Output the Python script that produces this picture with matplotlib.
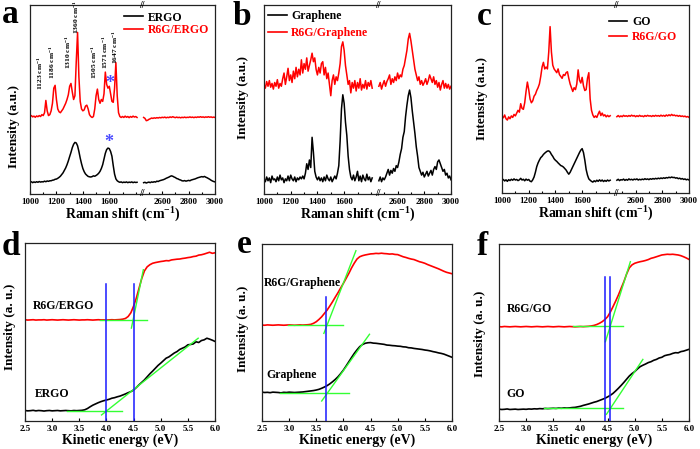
import numpy as np
import matplotlib
matplotlib.use("Agg")
import matplotlib.pyplot as plt
import matplotlib.transforms as mtrans

plt.rcParams['font.family'] = ['Liberation Serif', 'DejaVu Serif']
plt.rcParams['font.weight'] = 'bold'
plt.rcParams['mathtext.fontset'] = 'custom'
plt.rcParams['mathtext.rm'] = 'Liberation Serif:bold'
plt.rcParams['mathtext.it'] = 'Liberation Serif:bold'
plt.rcParams['mathtext.bf'] = 'Liberation Serif:bold'

# ---------------- Raman data (left segment 1000-1810, right 2460-3000, step 10) -------------
raman_left_start, raman_right_start, raman_step = 1000, 2460, 10

a_ergo_left = [6.2, 6.5, 6.0, 6.4, 6.1, 6.5, 6.2, 6.6, 6.3, 6.5, 6.4, 6.8, 6.5, 6.9, 6.7, 7.0, 7.0, 7.3, 7.4, 7.8,
               7.9, 8.3, 8.8, 9.4, 10.3, 11.2, 12.5, 13.8, 15.5, 17.5, 19.8, 22, 24.5, 26.3, 27.3, 27, 25.5, 22.5, 19, 16,
               13.5, 11.8, 10.6, 9.9, 9.3, 9.1, 9.0, 9.2, 9.6, 9.4, 9.8, 10.3, 11.0, 12.0, 13.5, 15.5, 18.5, 21.5, 23.5, 24.3,
               24, 22.5, 20, 15, 10.5, 8, 7, 6.5, 6.2, 6.4, 6.0, 6.3, 6.1, 6.4, 6.0, 6.3, 6.1, 6.4, 6.0, 6.3, 6.1, 6.2]
a_ergo_right = [6, 6.2, 5.8, 6.1, 6.3, 6.0, 6.4, 6.2, 6.5, 6.3, 6.8, 6.6, 7.0, 7.2, 7.4, 7.6, 7.9, 8.3, 8.6, 8.9,
                9.3, 9.6, 9.4, 9.0, 8.7, 8.2, 8.0, 7.6, 7.4, 7.0, 6.9, 7.1, 6.8, 7.0, 7.2, 7.0, 7.4, 7.6, 7.8, 8.0,
                8.3, 8.6, 8.8, 9.0, 9.2, 9.0, 9.3, 8.9, 8.6, 8.2, 7.8, 7.3, 6.9, 6.6, 6.4]
a_r6g_left = [41, 41.5, 40.8, 41.2, 40.6, 41.3, 40.9, 41.5, 41, 42, 41.5, 43, 49.5, 44, 41.5, 42, 44, 48, 56, 57.5,
              50, 45, 43.5, 43, 44, 45, 46.5, 48, 50, 52.5, 57, 58.5, 54, 50, 52, 70, 85.5, 62, 49, 45,
              44, 44.5, 46.5, 47, 45, 42, 41, 40.5, 41, 45, 52, 55.5, 50, 48, 50, 49, 53, 64.5, 58, 56,
              57, 53, 49, 48.5, 56, 69.5, 52, 43, 41, 40.5, 41, 40.5, 41.2, 40.6, 41, 40.4, 41, 40.6, 41.2, 40.7, 41, 40.5]
a_r6g_right = [40.5, 40, 38.8, 39, 39.5, 39.8, 40.2, 40, 40.3, 40.1, 40.4, 40.2, 40.5, 40.3, 40.6, 40.4, 40.7, 40.3, 40.6, 40.4,
               40.8, 40.5, 40.9, 40.6, 40.4, 40.7, 40.4, 40.6, 40.3, 40.6, 40.4, 40.7, 40.4, 40.6, 40.5, 40.8, 40.5, 40.7, 40.4, 40.7,
               40.5, 40.8, 40.6, 40.9, 40.6, 40.8, 40.5, 40.8, 40.6, 40.9, 40.6, 40.8, 40.5, 40.7, 40.5]

b_gr_left = [8, 6.5, 9, 7, 8.5, 6, 9.5, 7.5, 8, 6.5, 9, 7, 10, 7.5, 8.5, 6, 8, 7, 9.5, 7,
             10, 8, 7, 9, 6.5, 8.5, 7.5, 9, 8, 9.5, 8, 11, 16, 13, 18, 14, 30, 22, 12, 9,
             7.5, 9, 7, 8.5, 6.5, 9, 7, 10, 8, 7, 9, 6.5, 8, 9.5, 8, 11, 15, 28, 45, 52.5,
             48, 38, 31, 20, 13, 9, 7.5, 10, 7, 9, 12, 7, 9.5, 6.5, 10, 8, 7, 10.5, 7.5, 9, 6.5, 8.5]
b_gr_right = [7, 9, 6.5, 8.5, 7.5, 9, 11, 13, 10, 12.5, 11, 13.5, 12, 15, 14, 17, 21, 24, 30, 33,
              41, 47, 52, 55, 51, 44, 38, 32, 25, 20, 14, 12, 10, 11.5, 9, 10.5, 12, 9.5, 11, 12.5,
              10, 13, 14.5, 13, 17, 18, 16, 14, 12, 13, 10, 11, 8.5, 9.5, 7.5]
b_r6g_left = [58, 56, 59.5, 57, 60, 56.5, 58.5, 55.5, 59, 57, 60.5, 56, 58.5, 57, 61, 64, 58, 62, 66.5, 60,
              63, 59, 65, 61, 67, 62, 66, 63, 71, 64, 69, 66, 72, 65, 68, 71, 74.5, 70, 72, 66,
              63, 67, 64, 69, 70, 63, 67, 61, 64, 58, 52, 60, 63, 58, 62, 60, 64, 69, 78, 80.5,
              76, 68, 63, 58, 60, 53.5, 59, 56, 60, 54.5, 59, 56, 61, 55, 58, 56, 60, 55.5, 59, 57, 60, 56]
b_r6g_right = [57, 59, 55.5, 58, 60, 57, 59.5, 61, 63, 58, 61, 59, 62, 60, 64, 61, 63, 62, 66, 68,
               72, 76, 82, 85, 81, 76, 71, 66, 63, 60, 62, 58, 60, 57.5, 59, 61, 58, 60, 63, 61,
               59, 62, 58, 60, 56.5, 59, 55, 58, 60, 56, 58.5, 56, 58, 55.5, 57]

c_go_left = [6.5, 7.2, 6.4, 7, 6.2, 7.1, 6.6, 7.3, 6.8, 7.5, 6.9, 7.2, 6.6, 7.0, 7.8, 6.9, 7.3, 6.5, 7.4, 6.8,
             7.2, 6.3, 6.0, 7.0, 8.5, 11, 14, 16, 17.5, 18.8, 19.5, 20.5, 21.2, 21.8, 22.3, 22.4, 21.8, 20.5, 19.5, 18.2,
             17.4, 16.8, 16.0, 15.3, 14.6, 14.3, 13.8, 13.0, 12.2, 11.0, 10.0, 11.0, 12.5, 14.0, 15.5, 17.0, 18.5, 20.0, 21.5, 22.8,
             23.6, 21.5, 17.5, 12.5, 9.5, 7.5, 6.8, 6.2, 5.8, 6.5, 6.0, 6.8, 6.2, 7.0, 6.3, 6.9, 6.1, 6.7, 6.2, 6.9, 6.4, 6.8]
c_go_right = [6.8, 7.3, 6.6, 7.1, 6.9, 7.4, 6.7, 7.2, 6.8, 7.5, 7.0, 7.3, 6.9, 7.4, 7.1, 7.5, 6.9, 7.3, 7.0, 7.4,
              7.1, 7.6, 7.2, 7.5, 7.1, 7.6, 7.3, 7.7, 7.4, 7.8, 7.5, 7.9, 7.6, 8.0, 7.7, 8.1, 7.8, 8.2, 8.0, 8.4,
              8.1, 8.5, 8.2, 8.3, 7.9, 8.1, 7.6, 7.9, 7.4, 7.7, 7.2, 7.5, 7.0, 7.3, 6.9]
c_r6g_left = [41, 40, 41.5, 39.5, 38.8, 40.5, 39.5, 41, 40.2, 41.8, 41, 42.5, 44, 43, 47.5, 45, 44.5, 48, 54, 59,
              55, 50, 48, 49, 51.5, 52.5, 54.5, 56, 58, 62, 67, 69.5, 66, 67, 66, 75, 88.5, 75, 68, 66,
              65, 64, 66, 63, 62, 61, 63, 62.5, 64, 64.5, 61, 58, 56, 54, 56, 55, 58, 65.5, 60, 58.5,
              61.5, 57, 54.5, 55, 61, 64, 50, 44, 41.5, 40.2, 41, 40.2, 42, 43.5, 41.2, 42.5, 41, 41.6, 40.5, 41.3, 40.6, 41.1]
c_r6g_right = [40.6, 41.2, 40.5, 41.0, 40.6, 41.3, 40.8, 41.1, 40.7, 41.2, 40.8, 41.4, 40.9, 41.2, 40.6, 41.1, 40.7, 41.3, 40.8, 41.0,
               40.6, 41.2, 40.8, 41.3, 40.9, 41.1, 40.7, 41.2, 40.8, 41.3, 40.9, 41.2, 40.8, 41.4, 40.9, 41.3, 40.8, 41.5, 41.0, 41.6,
               41.1, 41.8, 41.2, 41.5, 41.0, 41.3, 40.8, 41.2, 40.7, 41.0, 40.6, 40.9, 40.4, 40.7, 40.2]

peak_positions = [1123, 1186, 1310, 1360, 1505, 1571, 1647]
peak_label_x = [1075, 1170, 1292, 1347, 1490, 1572, 1648]
peak_label_y = [55.2, 61, 66, 84.8, 60.6, 66, 69]
star_positions = [(1603, 58.5), (1598, 27)]

raman_major = [1000, 1200, 1400, 1600, 2600, 2800, 3000]
raman_minor = [1100, 1300, 1500, 1700, 1800, 2500, 2700, 2900]

# ---------------- UPS-like data (2.5 - 6.0 eV, step 0.05) ----------------
ke_start, ke_step = 2.5, 0.05
d_r6g = [56.9, 56.7, 56.8, 56.9, 56.7, 56.8, 56.8, 56.9, 56.7, 56.8, 56.9, 56.8, 56.7, 56.8, 56.9, 56.8, 56.7, 56.8, 56.9, 56.8,
         56.7, 56.8, 56.8, 56.9, 56.8, 56.7, 56.8, 56.9, 56.8, 56.8, 56.7, 56.8, 56.9, 56.8, 56.9, 57.0, 57.2,
         57.6, 58.7, 60.8, 64.5, 69, 74.5, 80, 84.3, 86.6, 87.8, 88.6, 89.0, 89.3, 89.6, 89.8, 90.1, 90.0, 90.5, 90.7, 90.9,
         91.0, 91.3, 91.5, 91.8, 92.0, 92.4, 92.6, 93.2, 93.4, 93.8, 94.3, 94.8, 94.2, 94.5]
d_ergo = [5.9, 5.7, 5.8, 6.0, 5.7, 5.9, 5.8, 5.6, 5.8, 5.9, 5.7, 5.8, 5.9, 5.7, 5.8, 5.9, 5.8, 5.7, 5.9, 5.8, 5.9, 6.0, 6.3,
          7.0, 8.0, 8.9, 9.6, 10.3, 10.9, 11.4, 11.8, 12.2, 12.8, 13.1, 13.6, 14.0, 14.6, 15.2, 15.9, 16.5, 17.4, 18.8, 20.3,
          21.7, 23.1, 24.8, 26.5, 28.0, 29.6, 31.2, 32.5, 33.9, 35.3, 36.0, 37.1, 38.2, 39.0, 40.2, 40.9, 41.6, 42.8, 43.0,
          43.3, 44.5, 44.1, 45.2, 45.6, 46.5, 46.0, 45.4, 44.7]
e_r6g = [54.2, 54.1, 54.3, 54.2, 54.1, 54.2, 54.3, 54.2, 54.1, 54.2, 54.3, 54.2, 54.1, 54.2, 54.3, 54.2, 54.3, 54.4, 54.6,
         55.2, 56.1, 57.4, 58.9, 60.8, 62.7, 65, 67.4, 70, 72.5, 75.2, 77.8, 80.6, 83.4, 86.5, 89.2, 91.5, 92.8, 93.4, 93.8,
         94.1, 94.4, 94.5, 94.7, 94.6, 94.8, 94.6, 94.5, 94.3, 94.4, 94.1, 94.0, 93.4, 92.8, 92.4, 91.9, 91.5, 91.2, 90.6,
         90.0, 89.6, 89.1, 88.4, 87.8, 87.2, 86.6, 86.0, 85.3, 84.6, 84.0, 83.6, 83.2]
e_gr = [16.3, 16.1, 16.2, 16.0, 16.3, 16.2, 16.1, 15.9, 16.2, 16.1, 16.3, 16.2, 16.1, 16.2, 16.3, 16.4, 16.6,
        16.8, 17.0, 17.2, 17.5, 17.9, 18.5, 19.2, 20.0, 21.0, 22.2, 23.5, 25.0, 26.8, 28.8, 31.1, 33.5, 35.9, 38.2, 40.2,
        42.0, 43.2, 43.9, 44.2, 44.3, 44.0, 43.9, 43.7, 43.5, 43.3, 42.9, 42.8, 42.6, 42.5, 42.3, 42.2, 41.9, 41.8, 41.4,
        41.3, 41.0, 40.8, 40.6, 40.4, 40.1, 39.9, 39.6, 39.2, 38.9, 38.5, 38.2, 37.8, 37.2, 36.6, 36.0]
f_r6g = [53.3, 53.2, 53.4, 53.3, 53.2, 53.3, 53.4, 53.3, 53.2, 53.3, 53.4, 53.3, 53.2, 53.3, 53.4, 53.3, 53.2, 53.3,
         53.4, 53.3, 53.2, 53.3, 53.4, 53.3, 53.2, 53.3, 53.4, 53.3, 53.2, 53.3, 53.4, 53.3, 53.4, 53.5, 53.7, 54.0,
         54.5, 55.2, 56.1, 57.3, 58.9, 61.5, 64.6, 67.8, 71.2, 75.0, 78.7, 83.0, 86.5, 88.2, 89.1, 89.6, 90.0, 90.3, 90.7,
         91.2, 91.9, 92.3, 92.8, 93.3, 93.8, 94.0, 94.2, 94.1, 94.2, 94.0, 93.8, 93.4, 92.8, 92.1, 91.3]
f_go = [6.7, 6.5, 6.6, 6.8, 6.5, 6.6, 6.7, 6.5, 6.6, 6.7, 6.6, 6.8, 6.7, 6.9, 6.8, 7.0, 6.9, 7.1, 7.0, 7.1, 7.2, 7.1,
        7.3, 7.2, 7.4, 7.3, 7.4,
        7.6, 7.7, 8.0, 8.3, 8.8, 9.2, 9.6, 10.1, 10.6, 11.0, 11.6, 12.2, 12.8, 13.6, 14.5, 15.6, 17.0, 18.5, 20.1, 21.8,
        23.6, 25.4, 26.8, 27.9, 29.4, 30.7, 31.5, 32.2, 33.0, 33.5, 34.3, 34.8, 35.6, 36.0, 36.9, 37.3, 37.6, 38.2, 38.6,
        38.5, 39.2, 39.5, 40.0, 40.5]

# tangent (green) lines: ((x0, x1), (y0, y1))
d_fits = [((3.88, 4.74), (56.8, 56.8)), ((4.46, 4.68), (52.2, 85.0)),
          ((3.27, 4.28), (5.8, 5.8)), ((3.91, 5.69), (3.4, 46.5))]
e_fits = [((2.98, 4.0), (54.2, 54.2)), ((3.64, 4.23), (49.5, 96.2)),
          ((2.83, 4.11), (15.6, 15.6)), ((3.60, 4.48), (11.3, 49.0))]
f_fits = [((3.87, 4.79), (53.7, 53.7)), ((4.46, 4.92), (44.8, 90.0)),
          ((3.32, 4.79), (7.5, 7.5)), ((4.48, 5.15), (3.8, 34.8))]
# blue vertical lines: (x, top y)
d_vlines = [(4.0, 77.1), (4.5, 77.1)]
e_vlines = [(3.68, 69.9)]
f_vlines = [(4.46, 81.5), (4.55, 81.5)]

ke_ticks = [2.5, 3.0, 3.5, 4.0, 4.5, 5.0, 5.5, 6.0]

# ---------------------------------------------------------------------------
W, H = 700, 449
fig = plt.figure(figsize=(7.0, 4.49), dpi=100)


def add_ax(l, r, t, b):
    return fig.add_axes([l / W, 1 - b / H, (r - l) / W, (b - t) / H])


BREAK_LO, BREAK_HI = 1850, 2450


def rx(v):
    v = np.asarray(v, dtype=float)
    return np.where(v <= BREAK_LO, v - 1000, v - 1000 - (BREAK_HI - BREAK_LO))


def raman_axes(ax, ylab_xy):
    ax.set_xlim(0, 1400)
    ax.set_ylim(0, 100)
    ax.set_xticks(rx(raman_major))
    ax.set_xticklabels([str(v) for v in raman_major], fontsize=6.5, fontweight='bold')
    ax.set_xticks(rx(raman_minor), minor=True)
    ax.tick_params(axis='x', which='major', direction='in', length=2.5, width=0.8, pad=3)
    ax.tick_params(axis='x', which='minor', direction='in', length=1.5, width=0.8)
    ax.set_yticks([])
    ax.set_xlabel('Raman shift (cm$^{\\mathregular{-1}}$)', fontsize=10, fontweight='bold', labelpad=0)
    ax.set_ylabel('Intensity (a.u.)', fontsize=9.5, fontweight='bold')
    ax.yaxis.set_label_coords(*ylab_xy)
    for s in ax.spines.values():
        s.set_linewidth(0.9)
        s.set_color('#222222')
    tr = mtrans.blended_transform_factory(ax.transData, ax.transAxes)
    for yy in (0, 1):
        ax.text(rx(BREAK_LO), yy, '//', transform=tr, ha='center', va='center',
                fontsize=7, fontweight='bold')


def draw_series(ax, left, right, color):
    xl = raman_left_start + raman_step * np.arange(len(left))
    xr = raman_right_start + raman_step * np.arange(len(right))
    ax.plot(rx(xl), left, color=color, lw=1.1)
    ax.plot(rx(xr), right, color=color, lw=1.1)


def legend2(ax, labels, anchor, spacing):
    hs = [plt.Line2D([], [], color='black', lw=1.2), plt.Line2D([], [], color='red', lw=1.2)]
    ax.legend(hs, labels, loc='upper left', bbox_to_anchor=anchor, frameon=False,
              prop={'size': 8.5, 'weight': 'bold'}, labelcolor='linecolor', handlelength=1.6,
              handletextpad=0.4, labelspacing=spacing, borderpad=0, borderaxespad=0)


# ---- panel a
ax_a = add_ax(30, 215, 5, 194)
draw_series(ax_a, a_ergo_left, a_ergo_right, 'black')
draw_series(ax_a, a_r6g_left, a_r6g_right, 'red')
raman_axes(ax_a, (-0.054, 0.355))
for lx, yv, p in zip(peak_label_x, peak_label_y, peak_positions):
    ax_a.text(rx(lx), yv, '%d cm$^{\\mathregular{-1}}$' % p, rotation=90, ha='center', va='bottom',
              fontsize=5.4, fontweight='bold')
for sx, sy in star_positions:
    ax_a.text(rx(sx), sy, '*', color='#4a4aff', fontsize=13, fontweight='bold', ha='center', va='center')
legend2(ax_a, ['ERGO', 'R6G/ERGO'], (0.51, 0.965), 0.05)

# ---- panel b
ax_b = add_ax(264, 451, 5, 194)
draw_series(ax_b, b_gr_left, b_gr_right, 'black')
draw_series(ax_b, b_r6g_left, b_r6g_right, 'red')
raman_axes(ax_b, (-0.08, 0.51))
legend2(ax_b, ['Graphene', 'R6G/Graphene'], (0.02, 0.975), 0.45)

# ---- panel c
ax_c = add_ax(502, 689, 5, 193)
draw_series(ax_c, c_go_left, c_go_right, 'black')
draw_series(ax_c, c_r6g_left, c_r6g_right, 'red')
raman_axes(ax_c, (-0.075, 0.5))
legend2(ax_c, ['GO', 'R6G/GO'], (0.57, 0.94), 0.25)


# ---- UPS panels
def ke_axes(ax, ylab_xy):
    ax.set_xlim(2.5, 6.0)
    ax.set_ylim(0, 100)
    ax.set_xticks(ke_ticks)
    ax.set_xticklabels(['%.1f' % v for v in ke_ticks], fontsize=6.5, fontweight='bold')
    ax.tick_params(axis='x', direction='in', length=2.5, width=0.8, pad=3)
    ax.set_yticks([])
    ax.set_xlabel('Kinetic energy (eV)', fontsize=10, fontweight='bold', labelpad=0)
    ax.set_ylabel('Intensity (a. u.)', fontsize=9.5, fontweight='bold')
    ax.yaxis.set_label_coords(*ylab_xy)
    for s in ax.spines.values():
        s.set_linewidth(0.9)
        s.set_color('#222222')


def ke_panel(ax, top, bottom, fits, vlines, top_label, top_xy, bot_label, bot_xy, ylab_xy):
    x = ke_start + ke_step * np.arange(len(top))
    ax.plot(x, top, color='red', lw=1.2)
    x2 = ke_start + ke_step * np.arange(len(bottom))
    ax.plot(x2, bottom, color='black', lw=1.2)
    for (xs, ys) in fits:
        ax.plot(xs, ys, color='#33ff33', lw=1.0)
    for (vx, vt) in vlines:
        ax.plot([vx, vx], [0, vt], color='#1a1aff', lw=1.1)
    ax.text(top_xy[0], top_xy[1], top_label, fontsize=8.5, fontweight='bold', va='center', ha='left')
    ax.text(bot_xy[0], bot_xy[1], bot_label, fontsize=8.5, fontweight='bold', va='center', ha='left')
    ke_axes(ax, ylab_xy)


ax_d = add_ax(25, 215, 243, 421)
ke_panel(ax_d, d_r6g, d_ergo, d_fits, d_vlines, 'R6G/ERGO', (2.65, 64.7), 'ERGO', (2.68, 15), (-0.047, 0.53))
ax_e = add_ax(262, 452, 244, 421)
ke_panel(ax_e, e_r6g, e_gr, e_fits, e_vlines, 'R6G/Graphene', (2.54, 78.2), 'Graphene', (2.58, 26), (-0.068, 0.52))
ax_f = add_ax(499, 689, 244, 421)
ke_panel(ax_f, f_r6g, f_go, f_fits, f_vlines, 'R6G/GO', (2.64, 63.1), 'GO', (2.64, 15.3), (-0.068, 0.49))

# panel letters
for letter, (px, py) in zip('abcdef', [(2, 23), (233, 25), (477, 25), (2, 255), (237, 253), (477, 255)]):
    fig.text(px / W, 1 - py / H, letter, fontsize=24, fontweight='bold', ha='left', va='baseline')

fig.savefig('out.png', dpi=100)
